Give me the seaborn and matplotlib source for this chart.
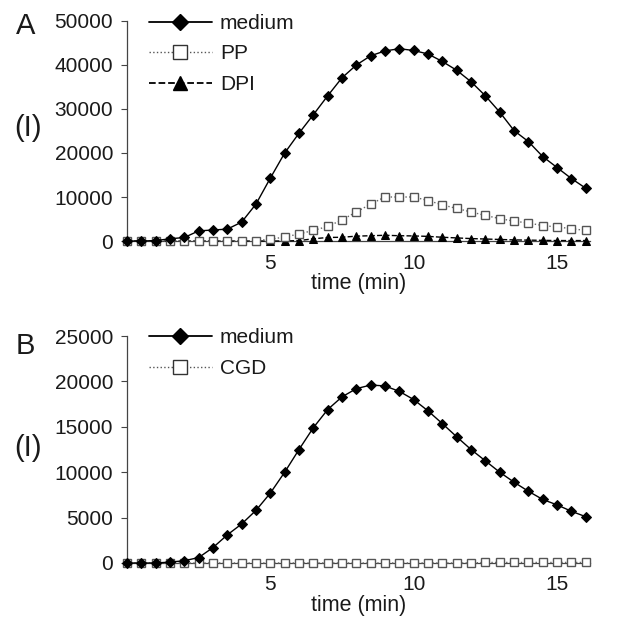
import numpy as np
import pandas as pd
import matplotlib
matplotlib.use("Agg")
import matplotlib.pyplot as plt
from matplotlib.lines import Line2D
import seaborn as sns

# time points (min)
time = np.arange(0, 16.5, 0.5)

# panel A
medium_a = [0, 0, 100, 500, 800, 2300, 2500, 2700, 4300, 8400,
            14300, 20000, 24500, 28700, 33000, 37100, 40000, 42100, 43200, 43700,
            43300, 42500, 40800, 38800, 36200, 33000, 29300, 25100, 22600, 19200,
            16700, 14200, 12000]
pp_a = [0, 0, 0, 0, 0, 0, 0, 0, 0, 100,
        400, 900, 1600, 2400, 3300, 4800, 6600, 8400, 10000, 10000,
        10000, 9200, 8200, 7400, 6600, 5800, 5100, 4500, 4100, 3500,
        3200, 2800, 2400]
dpi_a = [0, 0, 0, 0, 0, 0, 0, 0, 0, 0,
         0, 0, 100, 500, 800, 850, 1100, 1200, 1300, 1200,
         1150, 1050, 850, 700, 550, 450, 350, 250, 200, 150,
         100, 100, 100]

# panel B
medium_b = [0, 0, 0, 100, 250, 600, 1700, 3100, 4300, 5800,
            7700, 10000, 12500, 14900, 16900, 18300, 19200, 19600, 19500, 18900,
            18000, 16750, 15350, 13900, 12500, 11250, 10000, 8900, 7900, 7000,
            6400, 5700, 5100]
cgd_b = [0] * 25 + [60] * 8

a_ticks = [0, 10000, 20000, 30000, 40000, 50000]
b_ticks = [0, 5000, 10000, 15000, 20000, 25000]
x_ticks = [5, 10, 15]

sns.set_style("ticks")
plt.rcParams['font.family'] = ['Liberation Sans', 'DejaVu Sans']

W, H = 641, 625
fig = plt.figure(figsize=(W / 100, H / 100), dpi=100)


def px_axes(left, right, top, bottom):
    return fig.add_axes([left / W, (H - bottom) / H, (right - left) / W, (bottom - top) / H])


ax_a = px_axes(127, 590, 21, 241)
ax_b = px_axes(127, 590, 336, 563)

med_kw = dict(color="black", lw=1.0, marker="D", markersize=4.6,
              markeredgecolor="black", clip_on=False, zorder=4)
sq_kw = dict(color="#666666", lw=1.0, marker="s", markersize=5.3,
             markerfacecolor="white", markeredgecolor="#555555",
             markeredgewidth=1.0, clip_on=False, zorder=3)
tri_kw = dict(color="black", lw=1.0, marker="^", markersize=6.2,
              markeredgecolor="black", clip_on=False, zorder=3)

sns.lineplot(x=time, y=dpi_a, ax=ax_a, linestyle="--", **tri_kw)
sns.lineplot(x=time, y=pp_a, ax=ax_a, linestyle=":", **sq_kw)
sns.lineplot(x=time, y=medium_a, ax=ax_a, **med_kw)

sns.lineplot(x=time, y=cgd_b, ax=ax_b, linestyle=":", **sq_kw)
sns.lineplot(x=time, y=medium_b, ax=ax_b, **med_kw)

h_med = Line2D([], [], color="black", lw=1.3, marker="D", markersize=8)
h_pp = Line2D([], [], color="#555555", lw=1.0, ls=":", marker="s", markersize=10,
              markerfacecolor="white", markeredgecolor="#333333")
h_dpi = Line2D([], [], color="black", lw=1.3, ls="--", marker="^", markersize=10)

for ax, ticks, handles, labels, panel, lab_y in [
        (ax_a, a_ticks, [h_med, h_pp, h_dpi], ["medium", "PP", "DPI"], "A", 128),
        (ax_b, b_ticks, [h_med, h_pp], ["medium", "CGD"], "B", 448)]:
    ax.set_xlim(0, 16.15)
    ax.set_ylim(ticks[0], ticks[-1])
    ax.set_yticks(ticks)
    ax.set_yticklabels([str(t) for t in ticks])
    ax.set_xticks(x_ticks)
    ax.set_xticklabels([str(t) for t in x_ticks])
    ax.tick_params(axis="y", length=4, width=0.8, color="#444444", labelsize=15, pad=6,
                   labelcolor="#1a1a1a")
    ax.tick_params(axis="x", length=0, labelsize=15, pad=9, labelcolor="#1a1a1a")
    ax.set_xlabel("time (min)", fontsize=15.5, labelpad=0, color="#1a1a1a")
    ax.set_ylabel("")
    sns.despine(ax=ax)
    for s in ("left", "bottom"):
        ax.spines[s].set_color("#444444")
        ax.spines[s].set_linewidth(0.9)
    leg = ax.legend(handles, labels, loc="upper left", bbox_to_anchor=(0.03, 1.07),
                    frameon=False, fontsize=15, handlelength=3.0, handletextpad=0.4,
                    labelspacing=0.55, borderaxespad=0)
    for t in leg.get_texts():
        t.set_color("#1a1a1a")
    fig.text(16 / W, 1 - (lab_y - 102) / H, panel, fontsize=21, va="center", ha="left",
             color="#1a1a1a")
    fig.text(28 / W, 1 - lab_y / H, "(I)", fontsize=21, va="center", ha="center",
             color="#1a1a1a")

fig.savefig("out.png", dpi=100)
